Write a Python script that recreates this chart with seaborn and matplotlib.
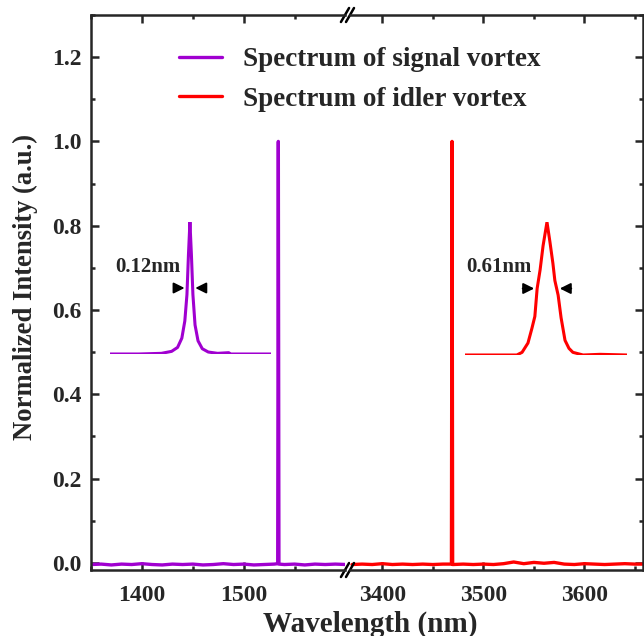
import matplotlib
matplotlib.use("Agg")
import matplotlib.pyplot as plt
from matplotlib.ticker import MultipleLocator, FormatStrFormatter
import seaborn as sns

# Data
sig_wl = [1350, 1360, 1370, 1380, 1390, 1400, 1410, 1420, 1430, 1440, 1450, 1460, 1470,
          1480, 1490, 1500, 1510, 1520, 1530, 1533.4, 1534.0, 1534.6, 1540, 1550, 1560,
          1570, 1580, 1590, 1601]
sig_int = [-0.004, -0.003, -0.005, -0.003, -0.004, -0.002, -0.004, -0.005, -0.003, -0.004,
           -0.003, -0.005, -0.004, -0.002, -0.004, -0.003, -0.005, -0.004, -0.003, -0.002,
           1.0, -0.003, -0.004, -0.003, -0.005, -0.003, -0.004, -0.003, -0.004]

idl_wl = [3370, 3380, 3390, 3400, 3410, 3420, 3430, 3440, 3450, 3460, 3468.4, 3469.0,
          3469.6, 3480, 3490, 3500, 3510, 3520, 3530, 3540, 3550, 3560, 3570, 3580, 3590,
          3600, 3610, 3620, 3630, 3640, 3650, 3659]
idl_int = [-0.004, -0.003, -0.004, -0.002, -0.004, -0.003, -0.004, -0.003, -0.004, -0.003,
           -0.003, 1.0, -0.004, -0.003, -0.004, -0.003, -0.004, -0.002, 0.002, -0.002,
           0.001, -0.001, 0.001, -0.003, -0.004, -0.002, -0.003, -0.004, -0.003, -0.002,
           -0.003, -0.003]

# zoomed peaks (relative wavelength in nm, normalized intensity)
sig_zoom_wl = [-1.87, -1.2, -0.67, -0.43, -0.29, -0.19, -0.12, -0.07, -0.035, 0.0, 0.035,
               0.07, 0.12, 0.19, 0.29, 0.43, 0.65, 0.91, 0.96, 1.4, 1.9]
sig_zoom_int = [0.0, 0.0, 0.005, 0.02, 0.05, 0.12, 0.25, 0.45, 0.75, 1.0, 0.75,
                0.45, 0.22, 0.1, 0.04, 0.015, 0.005, 0.01, 0.0, 0.0, 0.0]
idl_zoom_wl = [-2.5, -1.43, -0.92, -0.76, -0.58, -0.46, -0.37, -0.3, -0.21, -0.12, 0.0,
               0.09, 0.18, 0.24, 0.34, 0.43, 0.55, 0.67, 0.79, 1.1, 1.62, 2.44]
idl_zoom_int = [0.0, 0.0, 0.0, 0.02, 0.09, 0.2, 0.29, 0.5, 0.64, 0.82, 1.0,
                0.85, 0.69, 0.56, 0.45, 0.28, 0.11, 0.05, 0.02, 0.0, 0.005, 0.0]
sig_fwhm = 0.12
idl_fwhm = 0.61

purple = "#a000d0"
red = "#ff0000"

sns.set_style("ticks")
plt.rcParams["font.family"] = ["Liberation Serif", "DejaVu Serif"]
plt.rcParams["font.weight"] = "bold"
plt.rcParams["axes.linewidth"] = 1.8

W, H = 644, 636
fig = plt.figure(figsize=(W / 100, H / 100), dpi=100)
ax1 = fig.add_axes([91 / W, 1 - 570 / H, (345 - 91) / W, 555 / H])
ax2 = fig.add_axes([350 / W, 1 - 570 / H, (643 - 350) / W, 555 / H])

sns.lineplot(x=sig_wl, y=sig_int, color=purple, lw=2.4, estimator=None, ax=ax1)
sns.lineplot(x=idl_wl, y=idl_int, color=red, lw=2.4, estimator=None, ax=ax2)

ax1.set_xlim(1350, 1599.5)
ax2.set_xlim(3368, 3658)
for ax in (ax1, ax2):
    ax.set_ylim(-0.017, 1.3)
    ax.xaxis.set_major_locator(MultipleLocator(100))
    ax.xaxis.set_minor_locator(MultipleLocator(50))
    ax.yaxis.set_major_locator(MultipleLocator(0.2))
    ax.yaxis.set_minor_locator(MultipleLocator(0.1))
    ax.tick_params(which="both", direction="in", top=True, width=1.8, labelsize=17)
    ax.tick_params(which="major", length=6)
    ax.tick_params(which="minor", length=3)
    ax.tick_params(axis="x", pad=11)
    ax.tick_params(axis="y", pad=7)

ax1.spines["right"].set_visible(False)
ax1.tick_params(axis="y", which="both", left=True, right=False)
ax1.yaxis.set_major_formatter(FormatStrFormatter("%.1f"))
ax2.spines["left"].set_visible(False)
ax2.tick_params(axis="y", which="both", left=False, right=True,
                labelleft=False, labelright=False)

# break marks
dx1, dx2, dy = 4 / 250, 4 / 293, 7 / 555
for y0 in (0, 1):
    ax1.plot([1 - dx1, 1 + dx1], [y0 - dy, y0 + dy], transform=ax1.transAxes,
             color="black", lw=1.8, clip_on=False)
    ax2.plot([-dx2, dx2], [y0 - dy, y0 + dy], transform=ax2.transAxes,
             color="black", lw=1.8, clip_on=False)

# zoomed insets
def zoom_inset(ax, rect, wl, inten, fwhm, color, label, text_x, arrow_len):
    ins = ax.inset_axes(rect)
    sns.lineplot(x=wl, y=inten, color=color, lw=2.2, estimator=None, ax=ins)
    ins.set_xlim(wl[0], wl[-1])
    ins.set_ylim(0, 1)
    ins.axis("off")
    half = fwhm / 2
    for sgn in (-1, 1):
        ins.annotate("", xy=(sgn * half, 0.5), xytext=(sgn * (half + arrow_len), 0.5),
                     arrowprops=dict(arrowstyle="-|>", color="black", lw=1.4,
                                     mutation_scale=16))
    ins.text(text_x, 0.66, label, ha="center", va="center", fontsize=15, fontweight="bold")

zoom_inset(ax1, [19 / 250, 216 / 555, 158 / 250, 132 / 555], sig_zoom_wl, sig_zoom_int,
           sig_fwhm, purple, "0.12nm", -0.98, 0.38)
zoom_inset(ax2, [115 / 293, 215 / 555, 162 / 293, 133 / 555], idl_zoom_wl, idl_zoom_int,
           idl_fwhm, red, "0.61nm", -1.45, 0.52)

handles = [ax1.lines[0], ax2.lines[0]]
fig.legend(handles, ["Spectrum of signal vortex", "Spectrum of idler vortex"],
           loc="upper left", bbox_to_anchor=(179 / W, 1 - 47 / H), frameon=False,
           fontsize=19.5, handlelength=1.6, handletextpad=0.75, labelspacing=0.55,
           borderpad=0, borderaxespad=0)

fig.text(370 / W, 1 - 624 / H, "Wavelength (nm)", ha="center", va="center",
         fontsize=21, fontweight="bold")
ax1.set_ylabel("Normalized Intensity (a.u.)", fontsize=19.2, fontweight="bold")
ax1.yaxis.set_label_coords((38 - 91) / 254, (570 - 287) / 555)

fig.savefig("out.png", dpi=100)
